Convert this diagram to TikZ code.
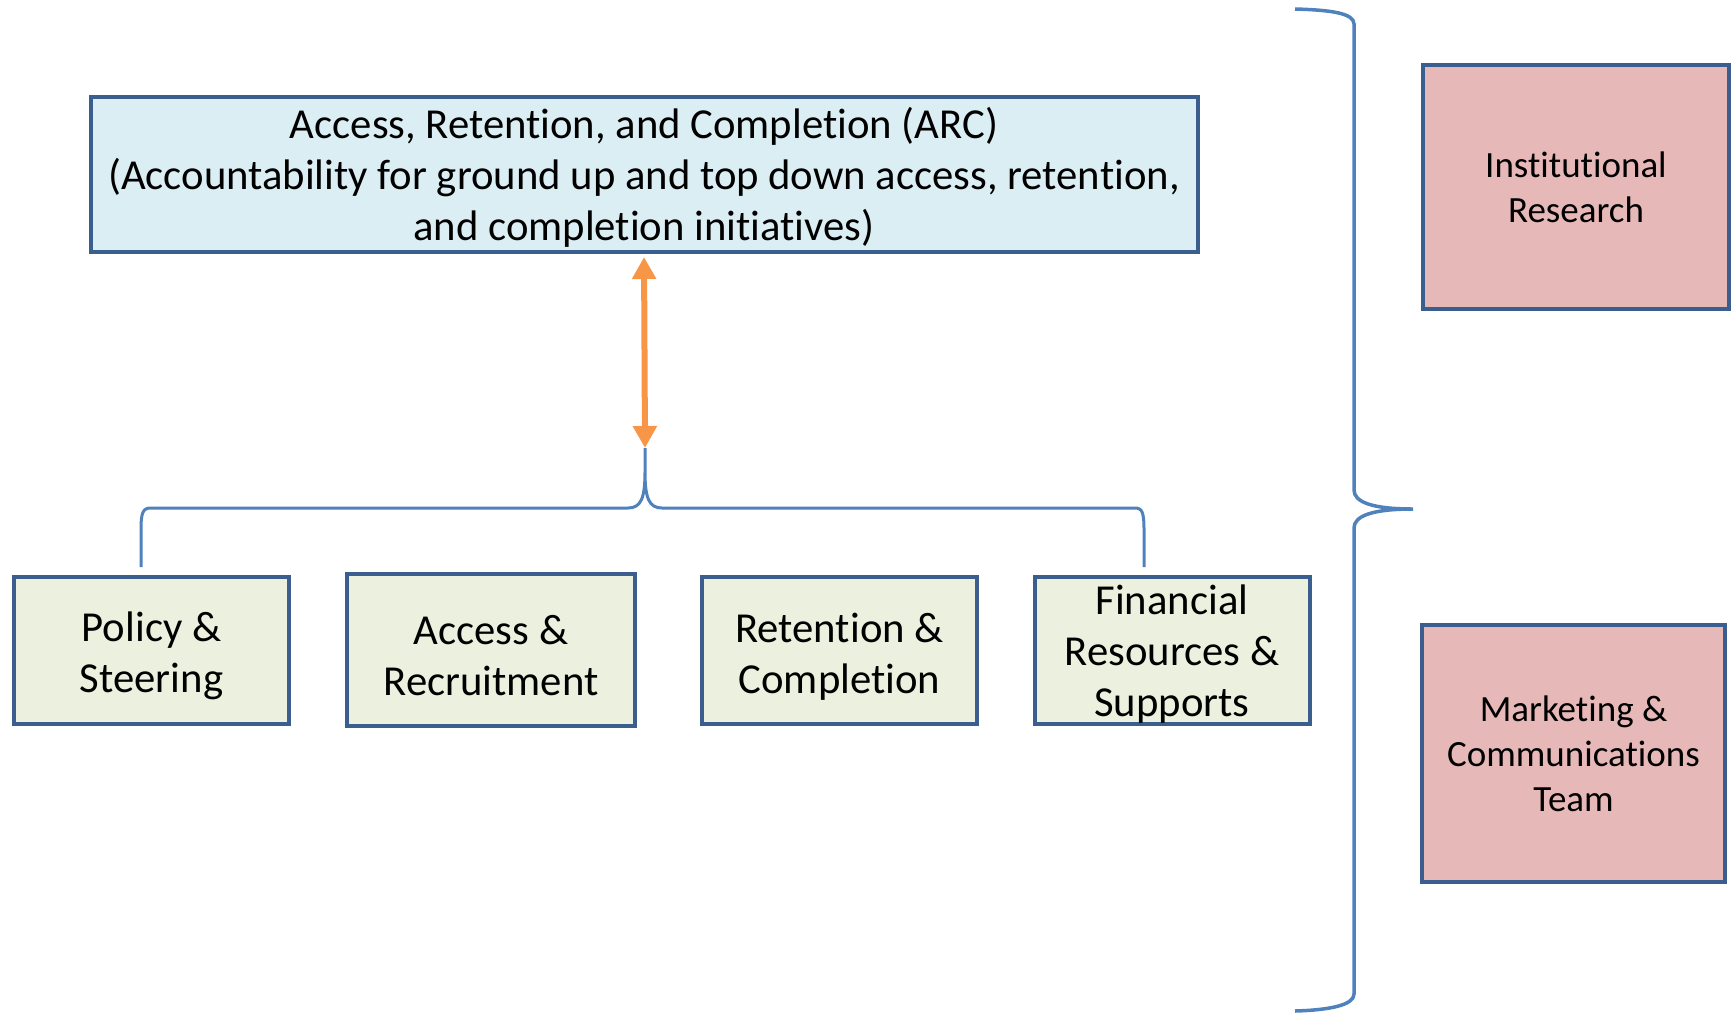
\documentclass[tikz,border=0pt]{standalone}
\usepackage{fontspec}
\setmainfont{Carlito}[RawFeature={-liga,-clig,-calt,-dlig}]
\usetikzlibrary{arrows.meta}
\definecolor{boxline}{HTML}{3A5F8E}
\definecolor{arcfill}{HTML}{DBEEF4}
\definecolor{groupfill}{HTML}{EBF1DE}
\definecolor{supportfill}{HTML}{E6B9B8}
\definecolor{bracecol}{HTML}{4F81BD}
\definecolor{arrowcol}{HTML}{F79646}
\newcommand\lift[1]{\rule{0pt}{#1}}
\begin{document}
\begin{tikzpicture}[x=1pt,y=-1pt]
            \useasboundingbox (0,0) rectangle (1736,1013);
            \begin{scope}[every node/.style={draw=boxline,line width=4pt,inner sep=0pt,align=center,font=\fontsize{42.7}{51}\selectfont}]
                \node[fill=arcfill,minimum width=1107pt,minimum height=155pt] (arc) at (644,174.5)
                    {\lift{37pt}Access, Retention, and Completion (ARC)\\(Accountability for ground up and top down access, retention,\\and completion initiatives)};
            \end{scope}
            \begin{scope}[every node/.style={draw=boxline,line width=4pt,fill=groupfill,inner sep=0pt,align=center,minimum width=275pt,minimum height=147pt,font=\fontsize{42.7}{51}\selectfont}]
                \node (policy) at (151.5,650.5) {\lift{41pt}Policy \&\\Steering};
                \node[minimum width=288pt,minimum height=152pt] (access) at (491,650) {\lift{41pt}Access \&\\Recruitment};
                \node (retention) at (839.5,650.5) {\lift{41pt}Retention \&\\Completion};
                \node (financial) at (1172,650.5) {\lift{36pt}Financial\\Resources \&\\Supports};
            \end{scope}
            \begin{scope}[every node/.style={draw=boxline,line width=4pt,fill=supportfill,inner sep=0pt,align=center,font=\fontsize{37}{45}\selectfont}]
                \node[minimum width=306pt,minimum height=244pt] (ir) at (1576,187) {Institutional\\Research};
                \node[minimum width=303pt,minimum height=257pt] (mc) at (1573.5,753.5) {Marketing \&\\Communications\\Team};
            \end{scope}
            % bracket ends and brace points
            \coordinate (tip) at (645,448);
            \coordinate (left) at (141,567);
            \coordinate (right) at (1144,567);
            \coordinate (rtop) at (1295,9);
            \coordinate (rtip) at (1413,509);
            \coordinate (rbot) at (1295,1011);
            \draw[arrowcol,line width=6pt,{Triangle[width=23pt,length=22pt]}-{Triangle[width=23pt,length=22pt]},shorten <=3pt] (arc.south) -- (tip);
            \draw[bracecol,line width=3pt]
                (left) -- (141,530) .. controls (141,512) and (143,508) .. (151,508) -- (628,508)
                .. controls (641,508) and (645,498) .. (645,472) -- (tip)
                -- (645,472) .. controls (645,498) and (649,508) .. (662,508) -- (1135,508)
                .. controls (1142,508) and (1144,512) .. (1144,530) -- (right);
            \draw[bracecol,line width=3.5pt]
                (rtop) .. controls (1330,10) and (1354,13) .. (1354,24) -- (1354,490)
                .. controls (1354,502) and (1372,509) .. (rtip)
                .. controls (1372,509) and (1354,516) .. (1354,528) -- (1354,994)
                .. controls (1354,1005) and (1330,1010) .. (rbot);
\end{tikzpicture}
\end{document}
